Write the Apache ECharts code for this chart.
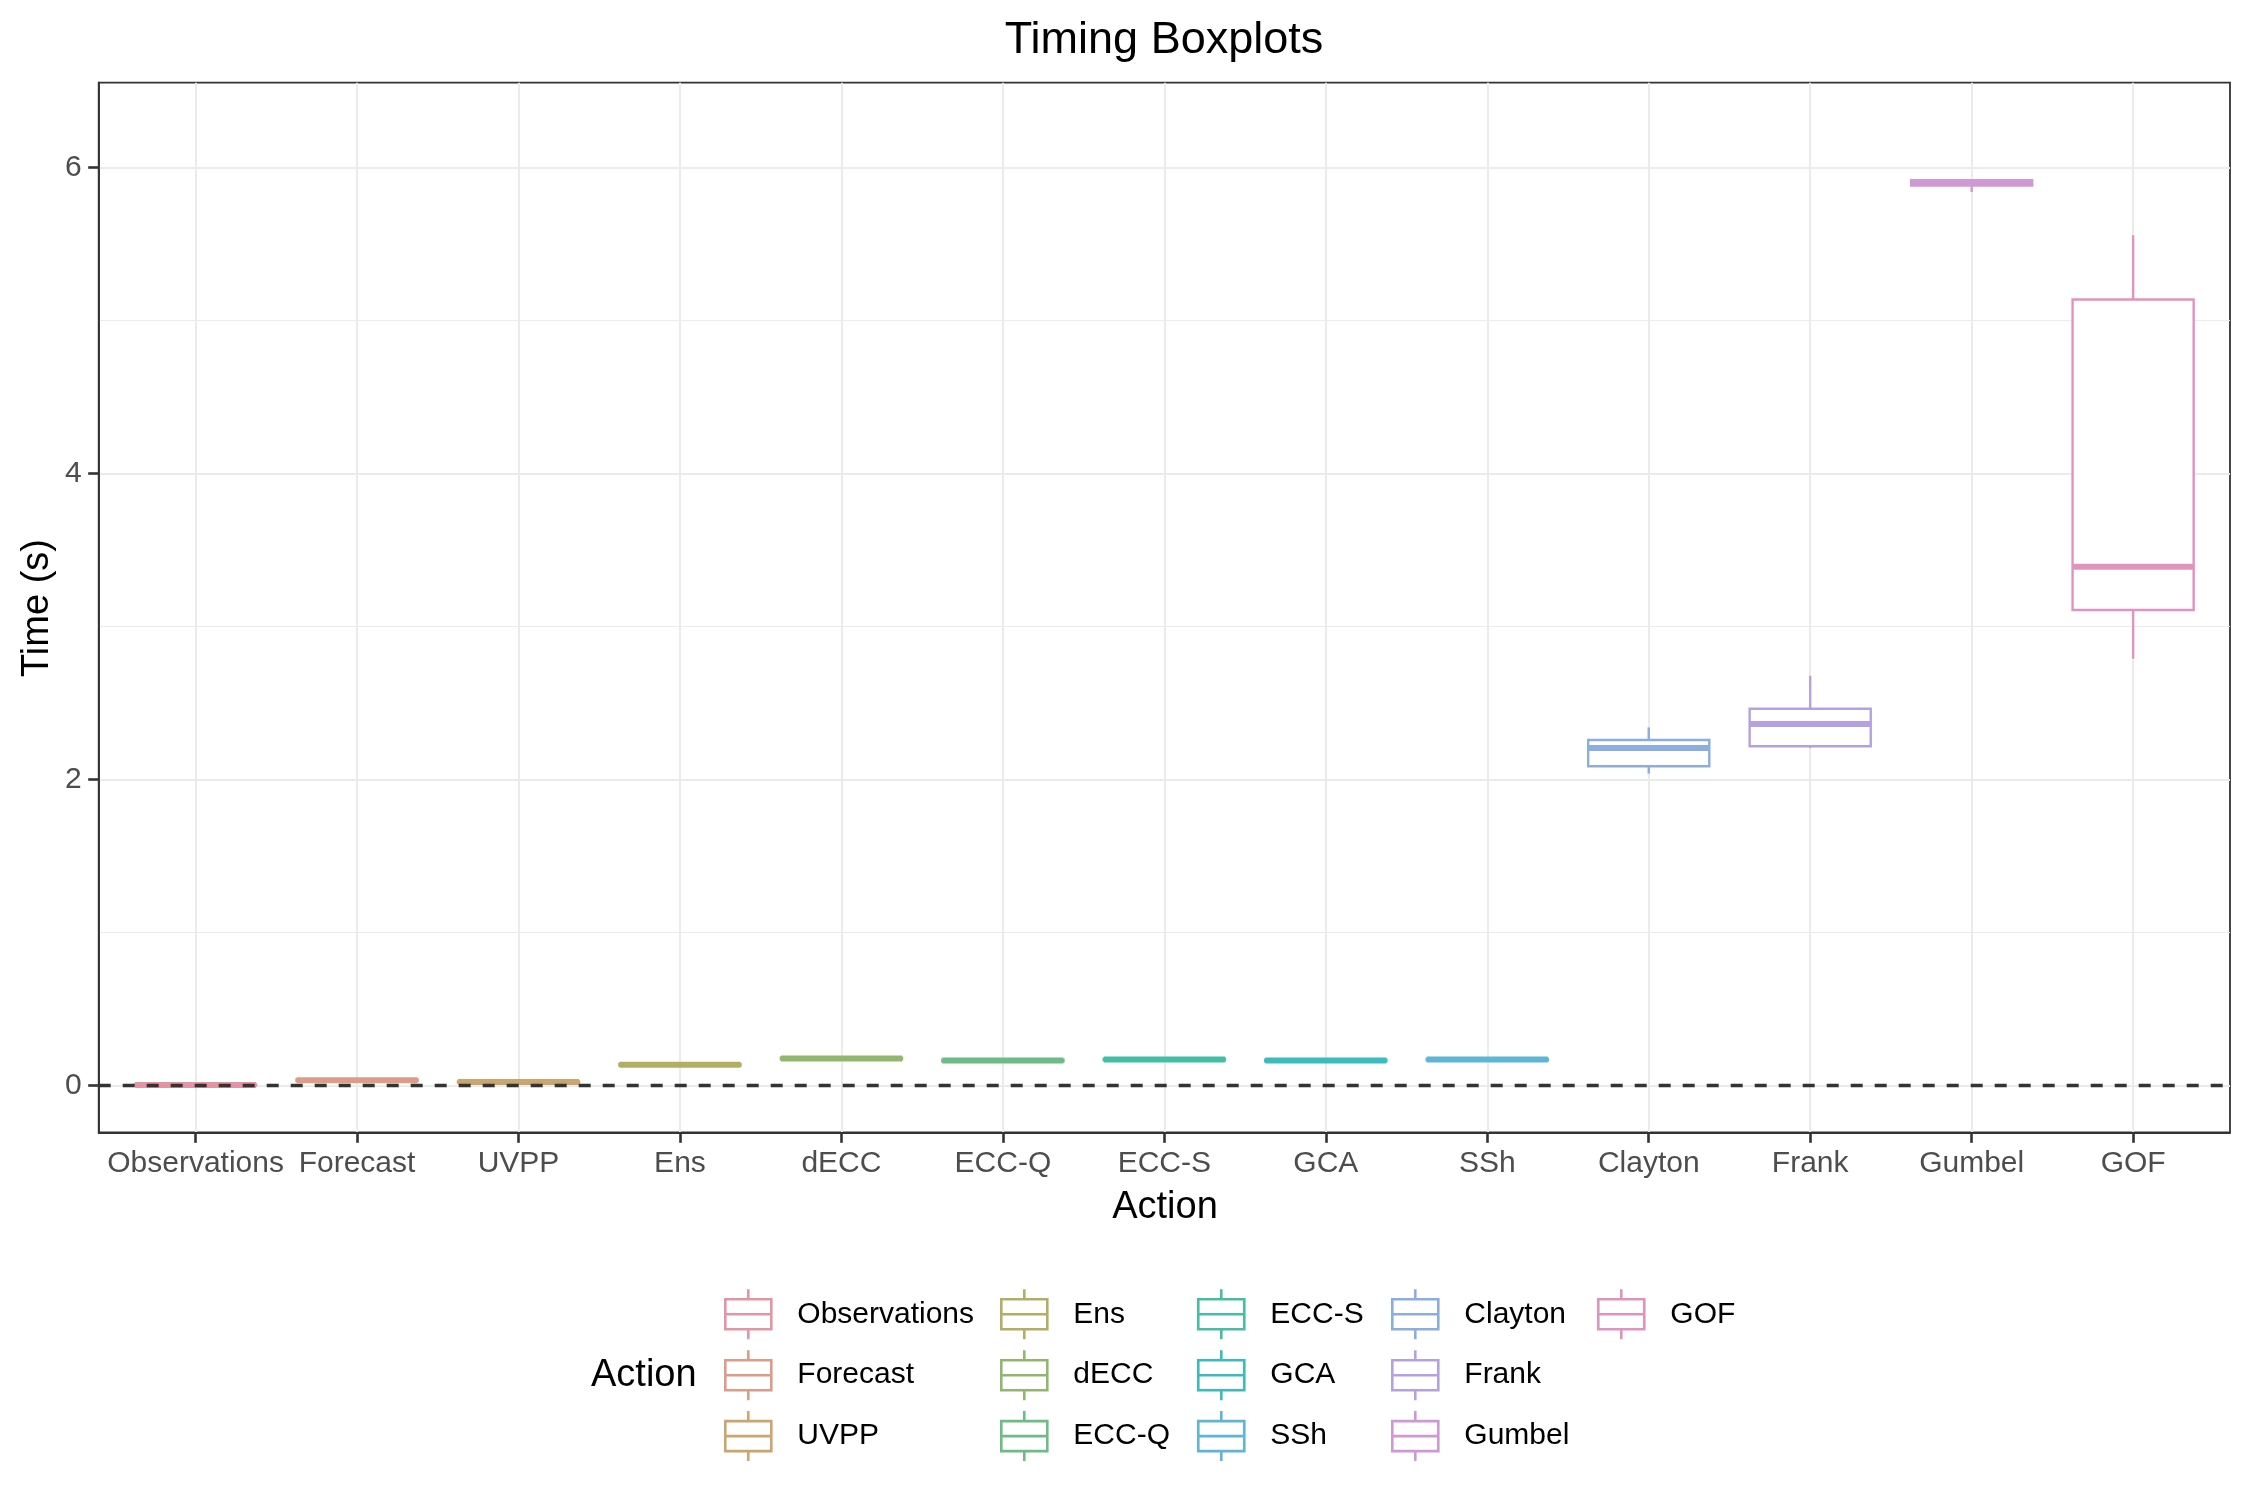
<!DOCTYPE html>
<html>
<head>
<meta charset="utf-8">
<title>Timing Boxplots</title>
<script src="https://cdn.jsdelivr.net/npm/echarts@6.0.0/dist/echarts.min.js"></script>
<style>
  html, body { margin: 0; padding: 0; background: #fff; }
  #main { width: 2250px; height: 1500px; }
</style>
</head>
<body>
<div id="main"></div>
<script>
// boxplot statistics per action (seconds)
const categories = ['Observations', 'Forecast', 'UVPP', 'Ens', 'dECC', 'ECC-Q', 'ECC-S',
    'GCA', 'SSh', 'Clayton', 'Frank', 'Gumbel', 'GOF'];
const whiskerLow = [0.000, 0.025, 0.015, 0.127, 0.167, 0.154, 0.161, 0.154, 0.160, 2.038, 2.204, 5.839, 2.788];
const lowerQuartile = [0.000, 0.028, 0.018, 0.130, 0.170, 0.157, 0.164, 0.157, 0.163, 2.085, 2.216, 5.880, 3.107];
const medians = [0.002, 0.033, 0.022, 0.135, 0.175, 0.162, 0.169, 0.162, 0.168, 2.204, 2.362, 5.900, 3.390];
const upperQuartile = [0.005, 0.038, 0.026, 0.140, 0.180, 0.167, 0.174, 0.167, 0.173, 2.257, 2.461, 5.915, 5.136];
const whiskerHigh = [0.006, 0.041, 0.029, 0.143, 0.184, 0.170, 0.177, 0.169, 0.176, 2.339, 2.677, 5.920, 5.556];

const yTicks = [0, 2, 4, 6];
const yMinorTicks = [1, 3, 5];
const legendColumns = [
    ['Observations', 'Forecast', 'UVPP'],
    ['Ens', 'dECC', 'ECC-Q'],
    ['ECC-S', 'GCA', 'SSh'],
    ['Clayton', 'Frank', 'Gumbel'],
    ['GOF']
];

// hcl colour (polar LUV) -> hex, like R's hcl()
function hcl(h, c, l) {
    const hr = h * Math.PI / 180;
    const U = c * Math.cos(hr), V = c * Math.sin(hr);
    const Xn = 95.047, Yn = 100, Zn = 108.883;
    const den = Xn + 15 * Yn + 3 * Zn;
    const un = 4 * Xn / den, vn = 9 * Yn / den;
    const Y = Yn * Math.pow((l + 16) / 116, 3);
    const u = U / (13 * l) + un, v = V / (13 * l) + vn;
    const X = 9 * Y * u / (4 * v);
    const Z = Y * (12 - 3 * u - 20 * v) / (4 * v);
    const x = X / 100, y = Y / 100, z = Z / 100;
    const lin = [
        3.240479 * x - 1.537150 * y - 0.498535 * z,
        -0.969256 * x + 1.875992 * y + 0.041556 * z,
        0.055648 * x - 0.204043 * y + 1.057311 * z
    ];
    return '#' + lin.map(function (t) {
        t = t <= 0.0031308 ? 12.92 * t : 1.055 * Math.pow(t, 1 / 2.4) - 0.055;
        t = Math.round(Math.min(1, Math.max(0, t)) * 255);
        return (t < 16 ? '0' : '') + t.toString(16);
    }).join('');
}
const colors = categories.map((c, i) => hcl(i * 360 / categories.length, 50, 70));

const FONT = '"Liberation Sans", Arial, sans-serif';
const boxIcon = 'path://M23,0L23,10M0,10L46,10L46,40L0,40ZM0,25L46,25M23,40L23,50';

function renderBox(params, api) {
    const x = api.value(0);
    const lo = api.coord([x, api.value(1)]);
    const b1 = api.coord([x, api.value(2)]);
    const md = api.coord([x, api.value(3)]);
    const b3 = api.coord([x, api.value(4)]);
    const hi = api.coord([x, api.value(5)]);
    const hw = api.size([0.75, 0])[0] / 2;
    const color = api.visual('color');
    return {
        type: 'group',
        children: [
            { type: 'line', shape: { x1: lo[0], y1: lo[1], x2: b1[0], y2: b1[1] }, style: { stroke: color, lineWidth: 2.4 } },
            { type: 'line', shape: { x1: b3[0], y1: b3[1], x2: hi[0], y2: hi[1] }, style: { stroke: color, lineWidth: 2.4 } },
            { type: 'rect', shape: { x: b3[0] - hw, y: b3[1], width: 2 * hw, height: b1[1] - b3[1] },
              style: { fill: '#fff', stroke: color, lineWidth: 2.4 } },
            { type: 'line', shape: { x1: md[0] - hw, y1: md[1], x2: md[0] + hw, y2: md[1] },
              style: { stroke: color, lineWidth: 6 } }
        ]
    };
}

const series = categories.map((name, i) => ({
    name: name,
    type: 'custom',
    renderItem: renderBox,
    encode: { x: 0, y: [1, 2, 3, 4, 5] },
    itemStyle: { color: colors[i], borderColor: colors[i], borderWidth: 2.4 },
    data: [[i + 1, whiskerLow[i], lowerQuartile[i], medians[i], upperQuartile[i], whiskerHigh[i]]],
    z: 2
}));

// dashed reference line at zero
series.push({
    type: 'line',
    data: [],
    silent: true,
    z: 5,
    markLine: {
        silent: true,
        symbol: 'none',
        label: { show: false },
        lineStyle: { color: '#333333', width: 3.3, type: [12, 12] },
        data: [{ yAxis: 0 }]
    }
});

const legendLeft = [724, 1000, 1197, 1391, 1597];
const legends = legendColumns.map((col, k) => ({
    orient: 'vertical',
    left: legendLeft[k],
    top: 1288,
    padding: 0,
    itemGap: 8.3,
    itemWidth: 46,
    itemHeight: 50,
    icon: boxIcon,
    selectedMode: false,
    itemStyle: { color: 'rgba(0,0,0,0)', borderColor: 'inherit', borderWidth: 2.6 },
    textStyle: { fontSize: 30, fontFamily: FONT, color: '#000', padding: [0, 0, 0, 21] },
    data: col
}));

const axisLineStyle = { color: '#333333', width: 1.8 };
const tickStyle = { color: '#333333', width: 2.6 };

const options = {
    backgroundColor: '#fff',
    animation: false,
    grid: {
        left: 98.7, top: 82.7, right: 20, bottom: 367.7,
        show: true, borderColor: '#333333', borderWidth: 1.8, backgroundColor: '#fff'
    },
    xAxis: {
        type: 'value',
        min: 0.4,
        max: 13.6,
        axisLine: { show: true, onZero: false, lineStyle: axisLineStyle },
        axisTick: { show: true, inside: false, length: 10.5, customValues: categories.map((c, i) => i + 1),
            lineStyle: tickStyle },
        axisLabel: {
            customValues: categories.map((c, i) => i + 1),
            formatter: (v) => categories[Math.round(v) - 1],
            margin: 16, fontSize: 30, fontFamily: FONT, color: '#4D4D4D', hideOverlap: false
        },
        splitLine: { show: true, lineStyle: { color: '#EBEBEB', width: 2 } }
    },
    yAxis: [{
        type: 'value',
        min: -0.307,
        max: 6.553,
        axisLine: { show: true, onZero: false, lineStyle: axisLineStyle },
        axisTick: { show: true, inside: false, length: 10.5, customValues: yTicks, lineStyle: tickStyle },
        axisLabel: { customValues: yTicks, margin: 17, fontSize: 30, fontFamily: FONT, color: '#4D4D4D' },
        splitLine: { show: true, lineStyle: { color: '#EBEBEB', width: 2 } }
    }, {
        type: 'value',
        min: -0.307,
        max: 6.553,
        position: 'left',
        axisLine: { show: false, onZero: false },
        axisTick: { show: false, customValues: yMinorTicks },
        axisLabel: { show: false, customValues: yMinorTicks },
        splitLine: { show: true, lineStyle: { color: '#EBEBEB', width: 1.1 } }
    }],
    legend: legends,
    graphic: [
        { type: 'text', x: 1164, y: 41, style: { text: 'Timing Boxplots', fontSize: 45, fontFamily: FONT,
            fill: '#000', align: 'center', verticalAlign: 'middle' } },
        { type: 'text', x: 1165, y: 1208, style: { text: 'Action', fontSize: 38, fontFamily: FONT,
            fill: '#000', align: 'center', verticalAlign: 'middle' } },
        { type: 'text', x: 38, y: 608, rotation: Math.PI / 2, style: { text: 'Time (s)', fontSize: 38,
            fontFamily: FONT, fill: '#000', align: 'center', verticalAlign: 'middle' } },
        { type: 'text', x: 591, y: 1376, style: { text: 'Action', fontSize: 38, fontFamily: FONT,
            fill: '#000', align: 'left', verticalAlign: 'middle' } }
    ],
    series: series
};

const myChart = echarts.init(document.getElementById('main'));
myChart.setOption(options);
</script>
</body>
</html>
